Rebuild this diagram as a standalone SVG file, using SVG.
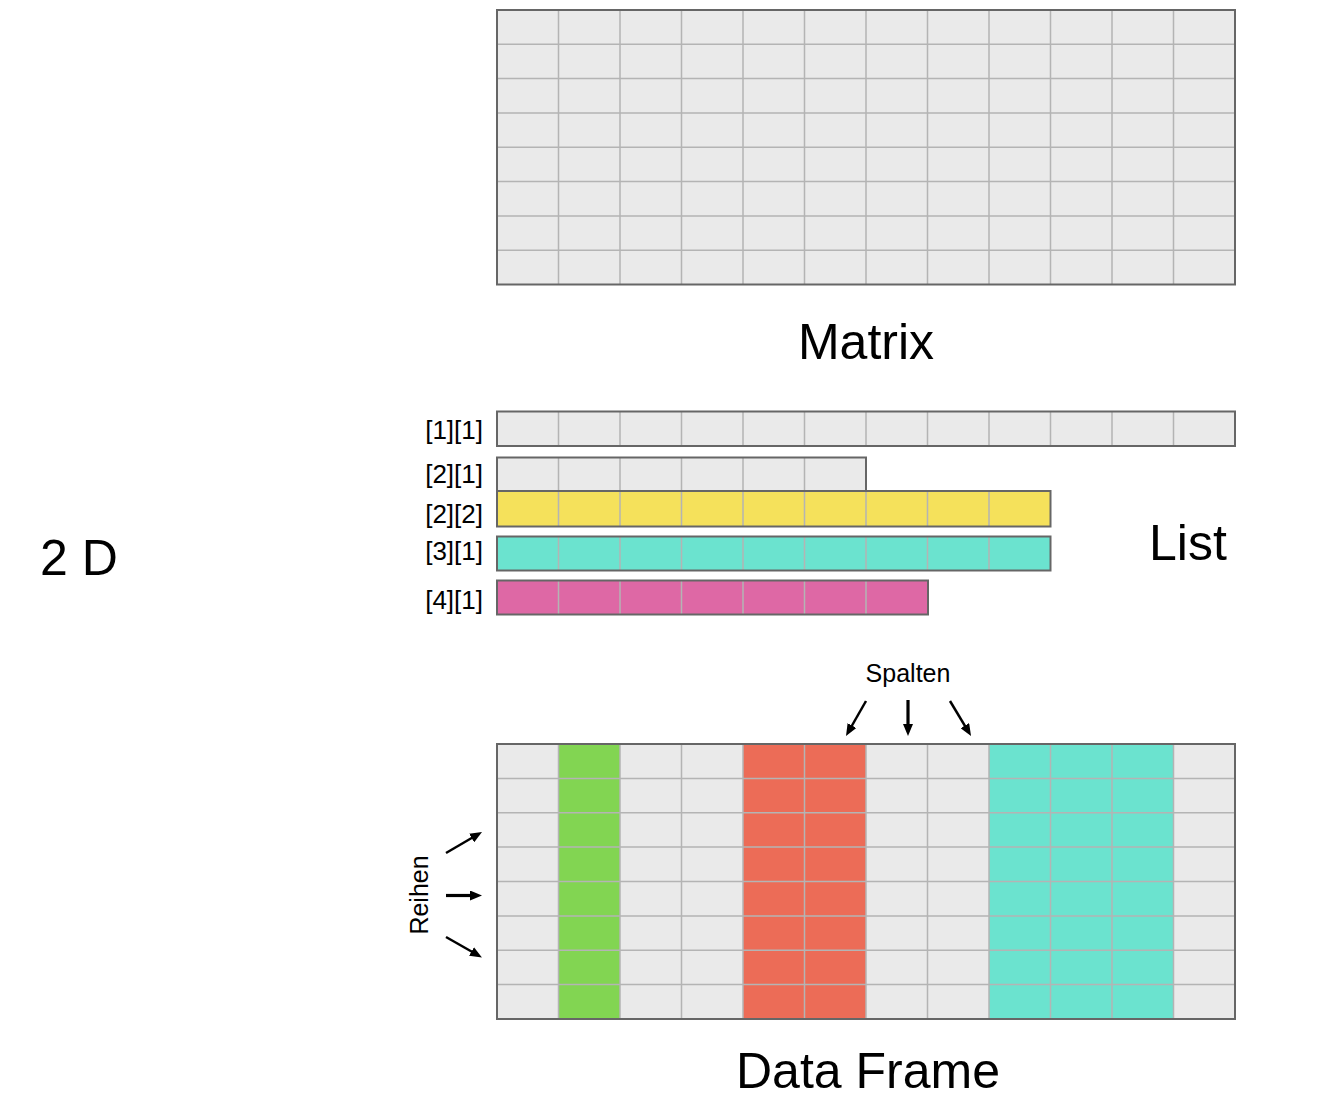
<svg xmlns="http://www.w3.org/2000/svg" width="1342" height="1114" viewBox="0 0 1342 1114">
<style>
.bg{fill:#eaeaea}
.grid{stroke:#b4b4b4;stroke-width:1.5;fill:none}
.border{stroke:#666;stroke-width:2;fill:none}
.title{font-family:"Liberation Sans",Arial,sans-serif;font-size:50px;fill:#000}
.lbl{font-family:"Liberation Sans",Arial,sans-serif;font-size:26px;fill:#000;text-anchor:end}
.small{font-family:"Liberation Sans",Arial,sans-serif;font-size:25px;fill:#000;text-anchor:middle}
.arr{stroke:#000;stroke-width:2.5;fill:none;marker-end:url(#ah)}
.arrb{stroke:#000;stroke-width:3.2;fill:none;marker-end:url(#ah)}
</style>
<defs>
<marker id="ah" markerUnits="userSpaceOnUse" markerWidth="12" markerHeight="10" refX="4" refY="5" orient="auto">
<path d="M0,0 L12,5 L0,10 z" fill="#000"/>
</marker>
</defs>
<rect width="1342" height="1114" fill="#fff"/>

<g id="label-2d"><text class="title" x="40" y="575" font-size="49">2 D</text></g>

<g id="matrix">
<rect class="bg" x="497" y="10" width="738" height="274.5"/>
<path class="grid" d="M558.5,10V284.5M620,10V284.5M681.5,10V284.5M743,10V284.5M804.5,10V284.5M866,10V284.5M927.5,10V284.5M989,10V284.5M1050.5,10V284.5M1112,10V284.5M1173.5,10V284.5M497,44.3H1235M497,78.6H1235M497,112.9H1235M497,147.25H1235M497,181.6H1235M497,215.9H1235M497,250.2H1235"/>
<rect class="border" x="497" y="10" width="738" height="274.5"/>
<text class="title" x="866" y="359" text-anchor="middle" font-size="51">Matrix</text>
</g>

<g id="list">
<g id="list-1-1">
<rect class="bg" x="497" y="411.5" width="738" height="34.5"/>
<path class="grid" d="M558.5,411.5V446M620,411.5V446M681.5,411.5V446M743,411.5V446M804.5,411.5V446M866,411.5V446M927.5,411.5V446M989,411.5V446M1050.5,411.5V446M1112,411.5V446M1173.5,411.5V446"/>
<rect class="border" x="497" y="411.5" width="738" height="34.5"/>
<text class="lbl" x="483" y="439">[1][1]</text>
</g>
<g id="list-2-1">
<rect class="bg" x="497" y="457.5" width="369" height="33.5"/>
<path class="grid" d="M558.5,457.5V491M620,457.5V491M681.5,457.5V491M743,457.5V491M804.5,457.5V491"/>
<rect class="border" x="497" y="457.5" width="369" height="33.5"/>
<text class="lbl" x="483" y="483">[2][1]</text>
</g>
<g id="list-2-2">
<rect x="497" y="491" width="553.5" height="35.5" fill="#f5e15b"/>
<path class="grid" d="M558.5,491V526.5M620,491V526.5M681.5,491V526.5M743,491V526.5M804.5,491V526.5M866,491V526.5M927.5,491V526.5M989,491V526.5"/>
<rect class="border" x="497" y="491" width="553.5" height="35.5"/>
<text class="lbl" x="483" y="523">[2][2]</text>
</g>
<g id="list-3-1">
<rect x="497" y="536.5" width="553.5" height="34" fill="#6be3cf"/>
<path class="grid" d="M558.5,536.5V570.5M620,536.5V570.5M681.5,536.5V570.5M743,536.5V570.5M804.5,536.5V570.5M866,536.5V570.5M927.5,536.5V570.5M989,536.5V570.5"/>
<rect class="border" x="497" y="536.5" width="553.5" height="34"/>
<text class="lbl" x="483" y="560">[3][1]</text>
</g>
<g id="list-4-1">
<rect x="497" y="580.5" width="431" height="34" fill="#de68a5"/>
<path class="grid" d="M558.5,580.5V614.5M620,580.5V614.5M681.5,580.5V614.5M743,580.5V614.5M804.5,580.5V614.5M866,580.5V614.5"/>
<rect class="border" x="497" y="580.5" width="431" height="34"/>
<text class="lbl" x="483" y="609">[4][1]</text>
</g>
<text class="title" x="1149" y="560">List</text>
</g>

<g id="dataframe">
<rect class="bg" x="497" y="744" width="738" height="275"/>
<rect x="558.5" y="744" width="61.5" height="275" fill="#82d552"/>
<rect x="743" y="744" width="123" height="275" fill="#ec6c57"/>
<rect x="989" y="744" width="184.5" height="275" fill="#6be3cf"/>
<path class="grid" d="M558.5,744V1019M620,744V1019M681.5,744V1019M743,744V1019M804.5,744V1019M866,744V1019M927.5,744V1019M989,744V1019M1050.5,744V1019M1112,744V1019M1173.5,744V1019M497,778.4H1235M497,812.75H1235M497,847.1H1235M497,881.5H1235M497,915.9H1235M497,950.25H1235M497,984.6H1235"/>
<rect class="border" x="497" y="744" width="738" height="275"/>
<text class="title" x="868" y="1088" text-anchor="middle" font-size="52">Data Frame</text>
</g>

<g id="spalten-label"><text class="small" x="908" y="682">Spalten</text></g>
<g id="reihen-label"><text class="small" transform="translate(428,895) rotate(-90)">Reihen</text></g>

<g id="connectors">
<line class="arr" x1="866" y1="701" x2="850" y2="729"/>
<line class="arrb" x1="908" y1="700" x2="908" y2="728"/>
<line class="arr" x1="950" y1="701" x2="966.9" y2="729.1"/>
<line class="arr" x1="446" y1="853" x2="475.1" y2="836"/>
<line class="arrb" x1="446" y1="895.5" x2="474" y2="895.5"/>
<line class="arr" x1="446" y1="937" x2="475" y2="953.5"/>
</g>
</svg>
